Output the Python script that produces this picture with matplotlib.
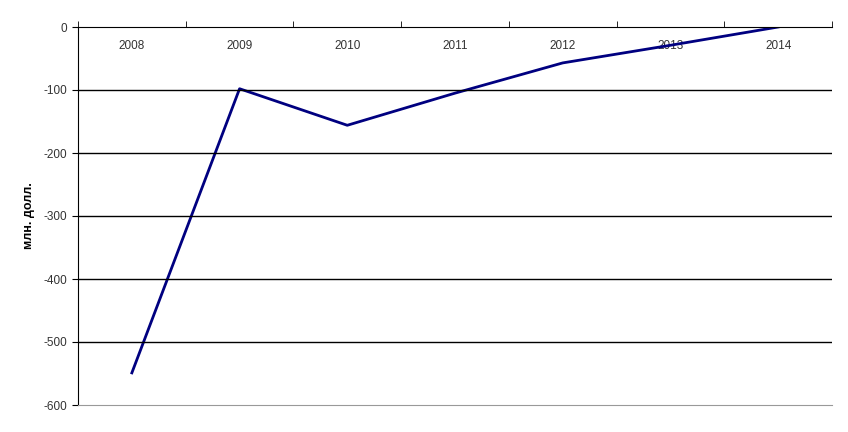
import numpy as np
import matplotlib.pyplot as plt

plt.rcParams['font.family'] = ['Liberation Sans', 'DejaVu Sans']
plt.rcParams['axes.unicode_minus'] = False

years = ['2008', '2009', '2010', '2011', '2012', '2013', '2014']
values = [-549, -98, -156, -105, -57, -29, 0]

fig = plt.figure(figsize=(8.48, 4.32), dpi=100)
ax = fig.add_axes([78 / 848, 1 - 405 / 432, (832 - 78) / 848, (405 - 27) / 432])

x = np.arange(len(years))
ax.plot(x, values, color='#000080', linewidth=2)

ax.set_xlim(-0.5, len(years) - 0.5)
ax.set_ylim(-600, 0)

# сетка
for v in range(-500, 0, 100):
    ax.axhline(v, color='black', linewidth=1)

ax.set_yticks(range(-600, 1, 100))
ax.tick_params(axis='y', direction='out', length=4, labelsize=8.5, labelcolor='#333333', color='black')

# подписи лет сверху, внутри области
ax.xaxis.set_ticks_position('top')
ax.set_xticks(x, labels=years)
ax.set_xticks(np.arange(-0.5, len(years)), minor=True)
ax.tick_params(axis='x', which='major', length=0, pad=-18, labelsize=8.5, labelcolor='#333333')
ax.tick_params(axis='x', which='minor', length=4, direction='out', color='black')

ax.spines['right'].set_visible(False)
ax.spines['bottom'].set_color('#999999')
ax.spines['top'].set_color('black')
ax.spines['left'].set_color('black')

ax.set_ylabel('млн. долл.', fontsize=9, fontweight='bold', labelpad=6)

fig.savefig('out.png', dpi=100)
